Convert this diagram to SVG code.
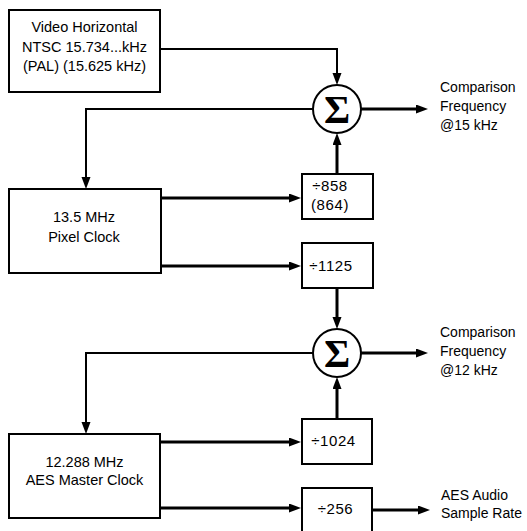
<svg xmlns="http://www.w3.org/2000/svg" width="527" height="531" viewBox="0 0 527 531">
<style>
.box{fill:#fff;stroke:#000;stroke-width:2}
.sum{fill:#fff;stroke:#000;stroke-width:2}
.t{font-family:"Liberation Sans",Arial,sans-serif;font-size:14px;fill:#000}
.b{font-size:14.5px}
.d{font-size:15px;letter-spacing:0.6px}
.c{text-anchor:middle}
.sig{font-family:"Liberation Serif","Times New Roman",serif;font-weight:bold;font-size:40px;text-anchor:middle;fill:#000}
.thin{fill:none;stroke:#000;stroke-width:2}
.thick{fill:none;stroke:#000;stroke-width:3}
</style>
<defs>
<marker id="ah" markerUnits="userSpaceOnUse" markerWidth="12" markerHeight="10" refX="6" refY="4.5" orient="auto">
<path d="M0,0 L12,4.5 L0,9 z" fill="#000"/>
</marker>
</defs>
<rect width="527" height="531" fill="#fff"/>
<g id="connectors">
<path class="thin" d="M160,49 H337 V79" marker-end="url(#ah)"/>
<path class="thin" d="M313,109 H86 V183" marker-end="url(#ah)"/>
<path class="thick" d="M361,109 H422" marker-end="url(#ah)"/>
<path class="thick" d="M161,198 H295" marker-end="url(#ah)"/>
<path class="thick" d="M161,266 H295" marker-end="url(#ah)"/>
<path class="thick" d="M337,174 V139" marker-end="url(#ah)"/>
<path class="thick" d="M337,288 V323" marker-end="url(#ah)"/>
<path class="thin" d="M313,353 H86 V428" marker-end="url(#ah)"/>
<path class="thick" d="M361,353 H422" marker-end="url(#ah)"/>
<path class="thick" d="M160,442 H295" marker-end="url(#ah)"/>
<path class="thick" d="M160,508 H295" marker-end="url(#ah)"/>
<path class="thick" d="M337,419 V383" marker-end="url(#ah)"/>
<path class="thick" d="M372,510 H424" marker-end="url(#ah)"/>
</g>
<g id="video-horizontal">
<rect class="box" x="9" y="10" width="151" height="82"/>
<text class="t b c" x="84.5" y="32">Video Horizontal</text>
<text class="t b c" x="84.5" y="52">NTSC 15.734...kHz</text>
<text class="t b c" x="84.5" y="71">(PAL) (15.625 kHz)</text>
</g>
<g id="sum1">
<circle class="sum" cx="337" cy="109" r="24"/>
<text class="sig" x="337" y="123">Σ</text>
</g>
<g id="out1">
<text class="t" x="440" y="92">Comparison</text>
<text class="t" x="440" y="111">Frequency</text>
<text class="t" x="440" y="130">@15 kHz</text>
</g>
<g id="pixel-clock">
<rect class="box" x="9" y="189" width="152" height="84"/>
<text class="t b c" x="84" y="222">13.5 MHz</text>
<text class="t b c" x="84" y="242">Pixel Clock</text>
</g>
<g id="div858">
<rect class="box" x="302" y="174" width="71" height="45"/>
<text class="t d c" x="330" y="191">÷858</text>
<text class="t d c" x="330" y="210">(864)</text>
</g>
<g id="div1125">
<rect class="box" x="302" y="243" width="71" height="45"/>
<text class="t d c" x="331" y="271">÷1125</text>
</g>
<g id="sum2">
<circle class="sum" cx="337" cy="353" r="24"/>
<text class="sig" x="337" y="367">Σ</text>
</g>
<g id="out2">
<text class="t" x="440" y="337">Comparison</text>
<text class="t" x="440" y="356">Frequency</text>
<text class="t" x="440" y="375">@12 kHz</text>
</g>
<g id="aes-master-clock">
<rect class="box" x="9" y="434" width="151" height="84"/>
<text class="t b c" x="84.5" y="467">12.288 MHz</text>
<text class="t b c" x="84.5" y="485">AES Master Clock</text>
</g>
<g id="div1024">
<rect class="box" x="302" y="419" width="70" height="45"/>
<text class="t d c" x="333.5" y="446">÷1024</text>
</g>
<g id="div256">
<rect class="box" x="302" y="488" width="70" height="50"/>
<text class="t d c" x="335.5" y="514">÷256</text>
</g>
<g id="out3">
<text class="t" x="441" y="500">AES Audio</text>
<text class="t" x="441" y="518">Sample Rate</text>
</g>
</svg>
